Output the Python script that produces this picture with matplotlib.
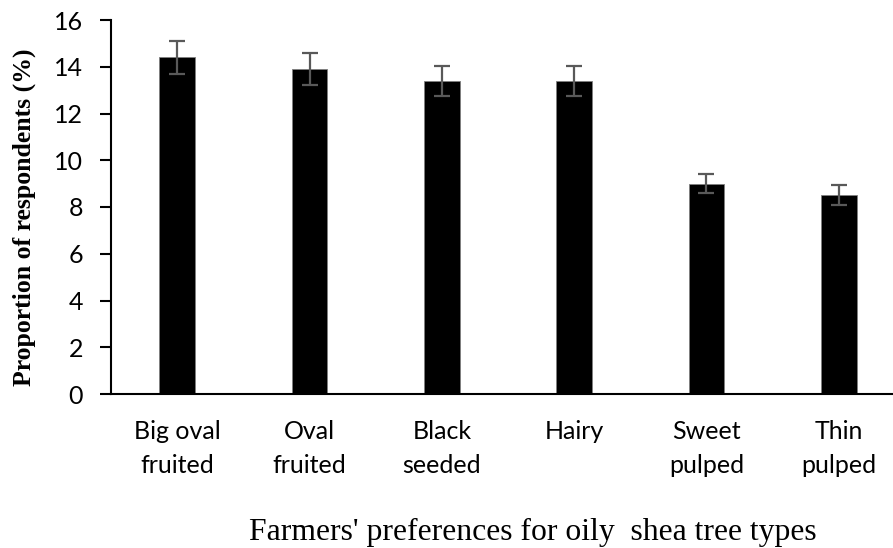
import matplotlib.pyplot as plt
import numpy as np

# shea tree types and share of respondents preferring each (%)
types = ['Big oval\nfruited', 'Oval\nfruited', 'Black\nseeded', 'Hairy', 'Sweet\npulped', 'Thin\npulped']
proportion = [14.4, 13.9, 13.4, 13.4, 9.0, 8.5]
std_err = [0.7, 0.7, 0.65, 0.65, 0.4, 0.42]

fig = plt.figure(figsize=(8.93, 5.48), dpi=100)
# plot area runs off the right edge a little
ax = fig.add_axes([111 / 893, 1 - 394 / 548, 794 / 893, 374 / 548])

x = np.arange(len(types))
ax.bar(x, proportion, width=0.27, color='black', edgecolor='#7f7f7f', linewidth=0.6,
       yerr=std_err, error_kw=dict(ecolor='#595959', elinewidth=1.6, capsize=6, capthick=1.6))

ax.set_xlim(-0.5, 5.5)
ax.set_ylim(0, 16)
ax.set_yticks(range(0, 17, 2))
ax.set_xticks(x)
ax.set_xticklabels(types, fontfamily='Lato', fontsize=18, linespacing=1.55)
for lab in ax.get_yticklabels():
    lab.set_fontfamily('Lato')
    lab.set_fontsize(18)

ax.tick_params(axis='x', length=0, pad=19)
ax.tick_params(axis='y', direction='out', length=8, width=1.5, pad=12)
ax.spines['top'].set_visible(False)
ax.spines['right'].set_visible(False)
ax.spines['left'].set_linewidth(1.5)
ax.spines['bottom'].set_linewidth(1.5)

fig.text(24 / 893, 1 - 217 / 548, 'Proportion of respondents (%)', rotation=90,
         fontfamily='Liberation Serif', fontweight='bold', fontsize=18.5,
         ha='center', va='center')
fig.text(533 / 893, 1 - 540 / 548, "Farmers' preferences for oily  shea tree types",
         fontfamily='Liberation Serif', fontsize=22.8, ha='center', va='baseline')

fig.savefig('out.png', dpi=100)
